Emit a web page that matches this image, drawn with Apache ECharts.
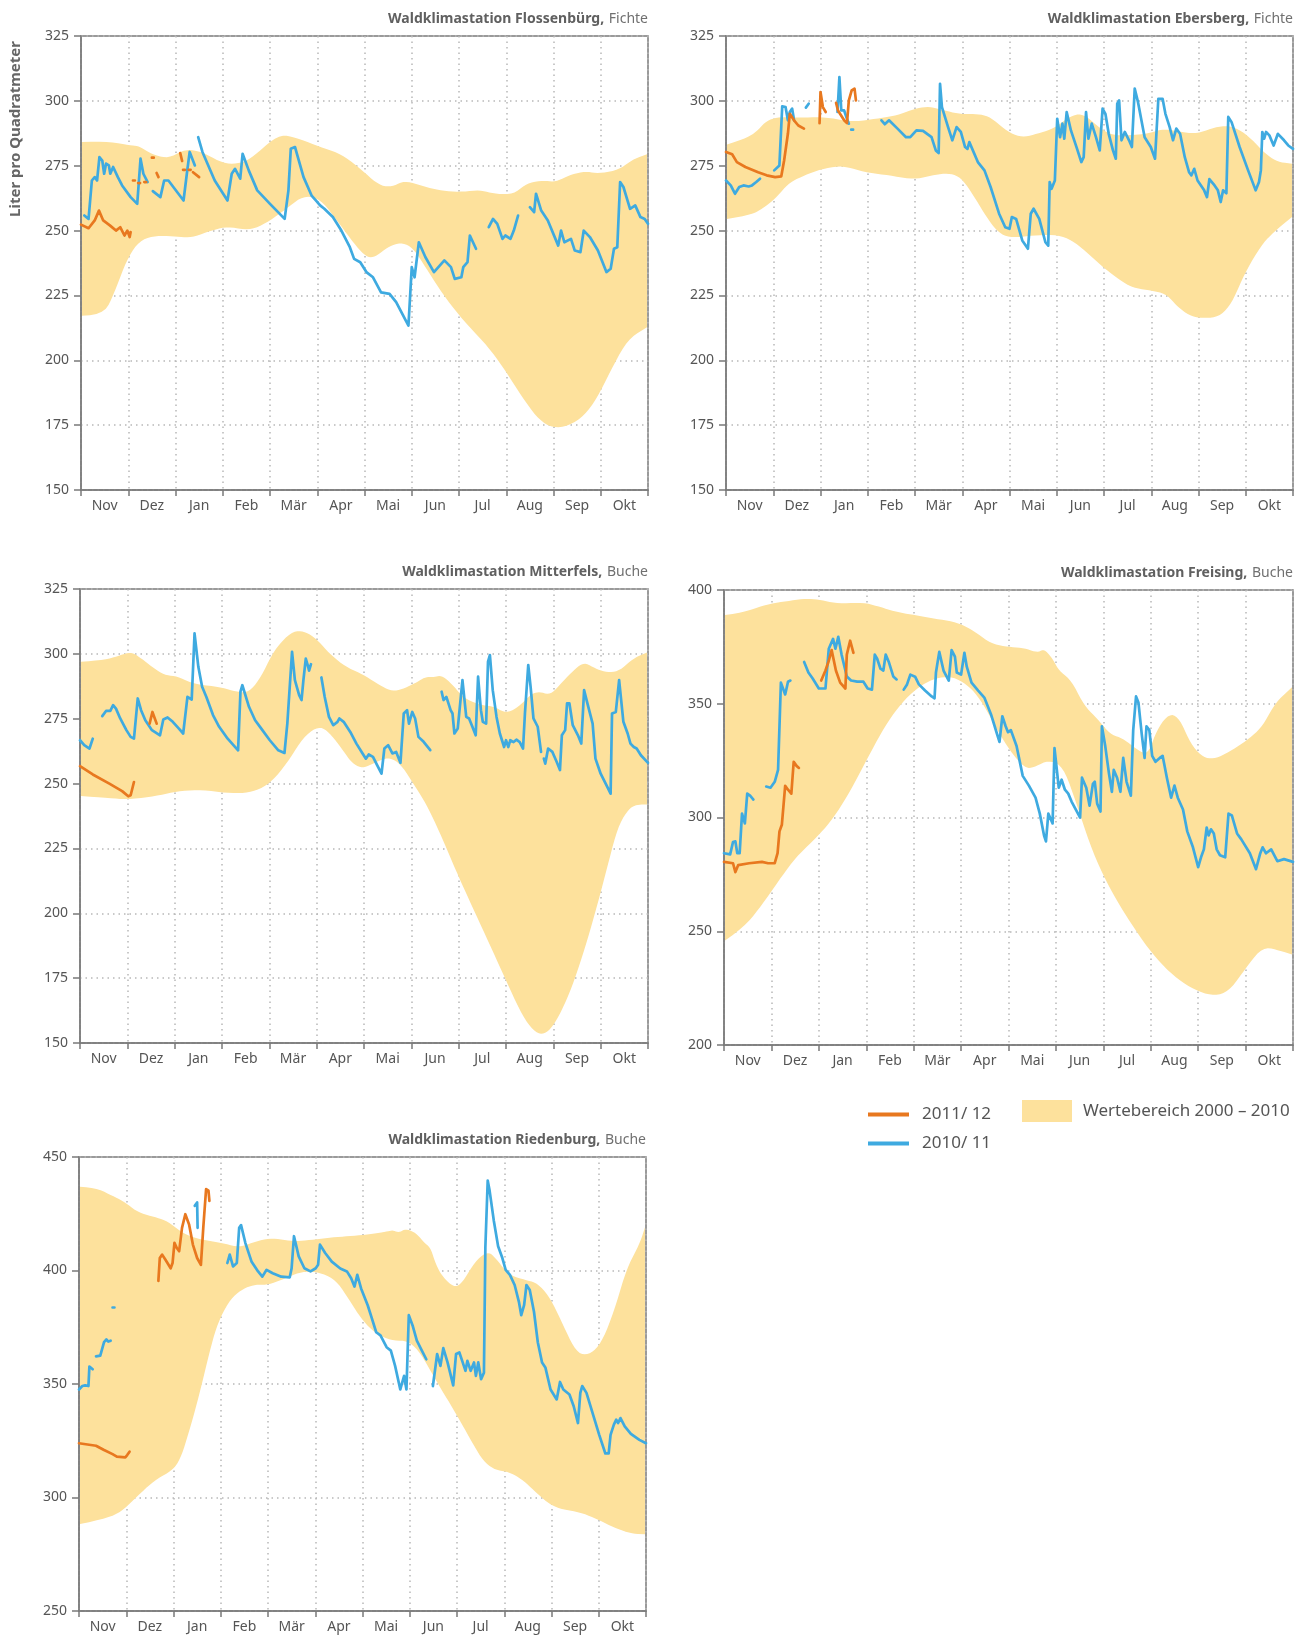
<!DOCTYPE html>
<html>
<head>
<meta charset="utf-8">
<title>Waldklimastationen – Bodenwasservorrat</title>
<script src="https://cdn.jsdelivr.net/npm/echarts@6/dist/echarts.min.js"></script>
<style>
  html, body { margin: 0; padding: 0; background: #fff; }
  #chart { width: 1302px; height: 1637px; }
</style>
</head>
<body>
<div id="chart"></div>
<script>
// Monate des hydrologischen Jahres (Nov - Okt), x-Werte in Monaten ab 1. Nov
var months = ['Nov', 'Dez', 'Jan', 'Feb', 'Mär', 'Apr', 'Mai', 'Jun', 'Jul', 'Aug', 'Sep', 'Okt'];

// ---- Flossenbürg (Fichte) ----
var flosHi = [[0,284.1],[0.52,284.5],[1.05,282.8],[1.23,282.6],[1.5,279.4],[1.85,277.7],[2.21,281.5],[2.57,280.3],[3.01,275.8],[3.37,275.8],[3.64,278.3],[4.17,287.1],[4.53,286.0],[5.06,282.2],[5.51,279.6],[5.95,273.2],[6.31,267.4],[6.58,266.8],[6.84,269.3],[7.2,267.4],[7.56,265.5],[8.0,264.8],[8.45,265.7],[8.72,264.2],[9.16,263.9],[9.43,268.3],[9.79,269.3],[10.05,268.7],[10.32,271.3],[10.68,272.9],[10.94,271.9],[11.39,273.4],[11.66,277.3],[12,279.4]];
var flosLo = [[0,217.2],[0.47,217.2],[0.7,225.6],[0.96,238.5],[1.23,246.2],[1.59,248.1],[2.03,247.7],[2.34,247.2],[2.75,250.0],[3.1,251.6],[3.55,250.0],[3.9,252.6],[4.35,258.4],[4.7,263.5],[5.06,262.3],[5.42,253.9],[5.78,244.9],[6.04,239.7],[6.22,239.7],[6.49,243.6],[6.76,245.5],[7.02,243.6],[7.29,235.9],[7.65,225.6],[8.09,215.3],[8.63,205.0],[8.98,196.0],[9.34,185.7],[9.7,176.7],[10.05,173.5],[10.5,176.1],[10.86,183.2],[11.21,196.0],[11.57,208.2],[12,212.7]];
var flosBlue = [[0.07,255.8],[0.16,254.5],[0.23,269.3],[0.29,270.6],[0.34,269.3],[0.39,278.3],[0.45,277.0],[0.49,271.9],[0.53,275.8],[0.59,275.1],[0.62,271.9],[0.68,274.5],[0.78,270.6],[0.87,267.4],[1.05,262.9],[1.19,260.3],[1.26,277.7],[1.32,271.9],[1.41,268.7], null,
  [1.52,265.2],[1.68,262.9],[1.76,269.3],[1.85,269.3],[2.17,261.6],[2.24,271.9],[2.3,280.3],[2.34,280.3],[2.41,275.1], null,
  [2.48,286.0],[2.57,280.3],[2.83,269.3],[3.1,261.6],[3.19,271.9],[3.26,273.8],[3.37,270.0],[3.42,279.6],[3.55,273.2],[3.73,265.5],[4.0,260.3],[4.31,254.5],[4.39,265.5],[4.44,281.5],[4.53,282.2],[4.57,279.6],[4.71,270.6],[4.88,263.5],[4.97,261.6],[5.06,259.7],[5.15,258.4],[5.33,255.2],[5.51,250.0],[5.69,243.6],[5.78,239.1],[5.91,237.8],[6.04,234.0],[6.18,232.0],[6.35,226.2],[6.53,225.6],[6.67,222.4],[6.93,213.4],[7.0,235.9],[7.06,232.0],[7.15,245.5],[7.29,239.7],[7.47,234.0],[7.69,238.5],[7.83,235.9],[7.91,231.4],[8.05,232.0],[8.09,235.9],[8.18,237.8],[8.23,248.1],[8.36,243.0], null,
  [8.63,251.3],[8.72,254.5],[8.81,252.6],[8.92,246.8],[8.98,248.1],[9.09,246.8],[9.16,250.0],[9.25,255.8], null,
  [9.5,259.0],[9.59,257.1],[9.63,264.2],[9.74,257.7],[9.88,253.9],[10.1,244.2],[10.16,250.0],[10.23,245.5],[10.37,246.8],[10.45,242.3],[10.57,241.7],[10.64,250.0],[10.77,247.5],[10.94,242.3],[11.12,234.0],[11.21,235.3],[11.28,243.0],[11.35,243.6],[11.41,268.7],[11.48,266.8],[11.62,258.4],[11.73,259.7],[11.84,255.2],[11.93,254.5],[12,252.6]];
var flosOrange = [[0,252.3],[0.16,250.9],[0.29,253.9],[0.38,257.7],[0.47,253.9],[0.61,252.0],[0.74,250.0],[0.83,251.3],[0.92,248.1],[0.98,250.0],[1.03,247.5],[1.05,249.4], null,
  [1.1,269.3],[1.14,269.3], null, [1.21,268.3],[1.25,268.3], null, [1.34,268.7],[1.38,268.7], null,
  [1.5,278.1],[1.54,278.1], null, [1.6,272.2],[1.64,270.6], null, [2.1,279.9],[2.14,276.8], null,
  [2.16,273.4],[2.2,273.4], null, [2.28,273.4],[2.32,273.4], null, [2.37,272.5],[2.5,270.6]];

// ---- Ebersberg (Fichte) ----
var eberHi = [[0,283.2],[0.41,285.4],[0.64,288.0],[0.86,292.5],[1.13,293.8],[1.57,293.5],[2.11,293.8],[2.65,291.8],[3.18,293.1],[3.63,294.4],[3.99,297.0],[4.3,297.9],[4.62,296.3],[4.97,294.8],[5.33,295.0],[5.6,293.8],[5.96,288.0],[6.27,285.8],[6.58,287.3],[6.94,289.3],[7.3,294.4],[7.57,295.0],[7.92,289.3],[8.19,286.7],[8.55,286.7],[8.91,287.3],[9.27,289.3],[9.62,288.0],[9.98,287.3],[10.34,289.9],[10.7,290.5],[11.05,286.7],[11.41,279.6],[11.68,276.4],[12,275.8]];
var eberLo = [[0,254.5],[0.5,255.8],[0.77,258.4],[1.04,262.2],[1.31,268.0],[1.57,270.6],[2.02,273.8],[2.47,275.1],[2.92,272.5],[3.45,271.3],[3.99,269.6],[4.35,271.3],[4.7,272.2],[4.97,270.6],[5.24,263.5],[5.51,255.2],[5.78,248.8],[6.05,247.2],[6.49,248.1],[7.03,248.5],[7.39,245.5],[7.75,239.7],[8.1,234.0],[8.55,228.2],[8.91,227.1],[9.31,225.8],[9.53,221.1],[9.8,217.2],[10.07,216.2],[10.43,216.6],[10.7,221.7],[10.97,233.3],[11.32,244.2],[11.59,249.4],[12,255.2]];
var eberBlue = [[0,269.3],[0.1,267.4],[0.19,264.2],[0.28,266.8],[0.37,267.4],[0.41,268.0],[0.48,267.0],[0.55,267.4],[0.64,268.7],[0.72,270.0], null,
  [1.02,273.2],[1.13,275.1],[1.19,297.9],[1.26,297.6],[1.31,292.5],[1.35,295.7],[1.4,297.0],[1.44,292.5], null,
  [1.69,297.4],[1.75,298.9], null,
  [2.36,295.7],[2.4,309.2],[2.44,296.3],[2.5,296.3],[2.56,293.1],[2.6,291.2], null,
  [2.65,288.9],[2.69,288.9], null,
  [3.29,292.5],[3.36,291.0],[3.45,292.5],[3.63,289.3],[3.81,286.0],[3.9,286.0],[4.03,288.6],[4.17,288.4],[4.35,286.0],[4.44,280.9],[4.5,279.9],[4.53,306.6],[4.57,297.6],[4.7,289.9],[4.79,284.8],[4.83,284.6],[4.88,289.9],[4.97,288.0],[5.06,282.2],[5.11,281.5],[5.15,284.1],[5.33,276.4],[5.47,273.2],[5.6,266.8],[5.78,256.5],[5.91,251.3],[6.0,250.7],[6.05,255.2],[6.14,254.5],[6.27,246.2],[6.39,243.0],[6.45,256.5],[6.51,258.4],[6.63,254.5],[6.76,245.5],[6.82,244.2],[6.85,268.7],[6.89,266.1],[6.96,269.3],[7.01,293.1],[7.07,286.0],[7.12,291.2],[7.16,285.4],[7.21,295.7],[7.3,288.6],[7.43,281.5],[7.52,276.4],[7.57,278.3],[7.62,295.7],[7.67,285.4],[7.74,291.2],[7.83,286.0],[7.91,280.9],[7.97,297.0],[8.03,295.0],[8.1,287.3],[8.19,280.9],[8.25,277.7],[8.28,298.9],[8.32,300.2],[8.37,284.8],[8.44,288.0],[8.53,284.8],[8.59,282.2],[8.65,304.7],[8.72,299.5],[8.86,286.0],[8.99,282.2],[9.08,277.7],[9.15,300.8],[9.24,300.8],[9.3,295.0],[9.39,289.9],[9.46,284.8],[9.53,289.3],[9.61,287.3],[9.71,278.3],[9.8,272.5],[9.85,271.3],[9.91,273.8],[9.98,269.3],[10.12,265.5],[10.18,262.9],[10.23,269.8],[10.34,267.4],[10.41,265.5],[10.47,261.0],[10.52,265.5],[10.59,264.4],[10.63,293.8],[10.7,291.8],[10.87,282.2],[11.05,273.2],[11.21,265.5],[11.28,268.7],[11.32,273.2],[11.35,288.0],[11.39,285.4],[11.43,288.0],[11.5,286.7],[11.59,282.8],[11.68,287.3],[11.81,284.8],[11.9,282.8],[12,281.5]];
var eberOrange = [[0,280.3],[0.13,279.4],[0.23,276.4],[0.41,274.5],[0.68,272.5],[0.86,271.3],[1.04,270.6],[1.17,270.9],[1.23,277.0],[1.31,287.3],[1.35,295.0],[1.44,292.5],[1.53,290.5],[1.65,289.3], null,
  [1.98,291.4],[2.0,303.4],[2.05,297.6],[2.11,295.7], null,
  [2.33,299.2],[2.37,296.3],[2.5,292.5],[2.56,291.4],[2.6,300.2],[2.66,304.0],[2.72,304.7],[2.75,300.2]];

// ---- Mitterfels (Buche) ----
var mittHi = [[0,297.0],[0.45,297.4],[0.8,299.1],[1.07,300.8],[1.25,298.9],[1.52,295.0],[1.78,291.8],[2.05,291.4],[2.41,288.3],[2.94,287.3],[3.3,285.4],[3.57,285.0],[3.83,291.2],[4.1,301.5],[4.46,308.5],[4.72,308.9],[4.99,306.0],[5.26,300.2],[5.61,295.0],[5.97,292.2],[6.33,287.9],[6.6,285.4],[6.86,286.7],[7.13,289.2],[7.31,291.2],[7.49,291.0],[7.63,291.8],[7.85,288.6],[8.11,282.8],[8.47,280.2],[8.74,279.8],[9.0,277.0],[9.27,279.6],[9.54,284.7],[9.71,285.4],[9.94,284.1],[10.16,288.6],[10.43,293.7],[10.65,296.9],[10.88,294.4],[11.14,292.7],[11.41,293.5],[11.68,298.2],[12,300.5]];
var mittLo = [[0,245.2],[0.53,244.6],[0.98,243.8],[1.6,245.1],[2.05,247.1],[2.58,247.6],[3.21,246.1],[3.65,246.7],[4.01,249.9],[4.37,257.7],[4.72,268.0],[5.04,272.2],[5.26,269.9],[5.53,263.5],[5.75,257.7],[5.97,255.8],[6.19,257.7],[6.51,260.3],[6.77,257.7],[7.04,250.0],[7.31,242.3],[7.58,232.0],[7.94,216.5],[8.29,202.4],[8.65,188.2],[9.0,174.1],[9.36,159.9],[9.63,153.7],[9.85,153.5],[10.07,158.6],[10.34,168.9],[10.61,183.1],[10.88,199.8],[11.14,217.8],[11.36,233.3],[11.59,240.3],[11.76,241.9],[12,241.9]];
var mittBlue = [[0,266.7],[0.09,264.8],[0.2,263.5],[0.27,267.3], null,
  [0.47,276.0],[0.55,278.0],[0.64,278.0],[0.7,280.2],[0.76,278.9],[0.85,275.1],[0.98,270.6],[1.07,268.0],[1.14,267.3],[1.22,282.8],[1.29,278.3],[1.38,274.4],[1.52,270.6],[1.69,268.6],[1.76,274.7],[1.85,275.5],[1.96,273.8],[2.09,271.2],[2.18,269.3],[2.27,283.4],[2.36,282.4],[2.42,307.9],[2.5,295.0],[2.58,287.3],[2.67,283.4],[2.81,276.4],[2.94,271.9],[3.12,267.3],[3.34,262.8],[3.39,285.4],[3.43,287.9],[3.57,279.6],[3.7,274.4],[3.83,271.2],[4.01,266.7],[4.19,262.8],[4.32,261.8],[4.38,273.1],[4.48,300.8],[4.54,289.9],[4.63,284.1],[4.68,282.2],[4.72,289.9],[4.77,298.2],[4.81,295.7],[4.84,293.5],[4.88,296.0], null,
  [5.1,290.9],[5.17,283.4],[5.26,275.7],[5.35,272.5],[5.44,273.8],[5.48,275.1],[5.57,273.8],[5.71,269.9],[5.84,265.4],[5.97,261.6],[6.04,259.6],[6.1,261.2],[6.19,260.3],[6.28,257.0],[6.37,253.8],[6.43,263.5],[6.51,264.8],[6.6,261.6],[6.68,262.2],[6.77,258.0],[6.84,277.0],[6.91,278.3],[6.95,273.1],[7.02,277.6],[7.08,275.1],[7.15,268.0],[7.26,266.1],[7.4,262.9], null,
  [7.64,285.4],[7.68,282.2],[7.74,283.4],[7.83,278.3],[7.87,277.0],[7.91,269.3],[7.98,271.2],[8.08,289.9],[8.16,275.7],[8.22,275.1],[8.29,271.9],[8.36,268.6],[8.41,291.2],[8.47,278.3],[8.51,273.8],[8.58,273.1],[8.62,297.0],[8.66,299.5],[8.72,286.0],[8.8,275.7],[8.87,269.3],[8.96,264.1],[9.0,266.7],[9.05,264.1],[9.09,266.7],[9.16,266.0],[9.22,266.9],[9.29,266.0],[9.36,263.5],[9.4,277.0],[9.47,295.7],[9.52,287.3],[9.58,275.1],[9.67,271.9],[9.74,262.2], null,
  [9.8,259.6],[9.83,257.7],[9.89,263.5],[9.98,262.2],[10.07,258.4],[10.14,255.2],[10.18,268.6],[10.25,270.6],[10.29,280.9],[10.34,280.9],[10.41,272.5],[10.52,268.6],[10.59,265.4],[10.65,286.0],[10.72,280.9],[10.83,273.1],[10.89,259.6],[11.0,253.8],[11.14,248.7],[11.21,246.1],[11.24,277.0],[11.32,277.6],[11.39,289.9],[11.48,273.8],[11.57,269.3],[11.63,265.4],[11.7,264.1],[11.76,263.5],[11.85,260.9],[12,258.0]];
var mittOrange = [[0,256.7],[0.27,253.5],[0.62,250.0],[0.89,247.1],[1.02,245.1],[1.07,245.5],[1.14,250.6], null,
  [1.47,273.1],[1.53,277.6],[1.62,273.1]];

// ---- Freising (Buche) ----
var freiHi = [[0,389.0],[0.44,390.2],[0.89,393.7],[1.33,395.1],[1.74,396.3],[2.05,395.6],[2.41,393.9],[2.94,394.6],[3.3,392.5],[3.66,390.2],[4.02,389.0],[4.47,387.3],[4.91,385.9],[5.27,382.0],[5.63,376.4],[5.99,375.0],[6.34,374.5],[6.61,372.4],[6.75,374.2],[6.93,369.8],[7.06,364.6],[7.33,360.2],[7.6,348.9],[7.87,343.6],[8.14,336.6],[8.4,334.9],[8.67,330.5],[8.94,327.1],[9.12,338.4],[9.39,345.9],[9.61,343.6],[9.84,332.3],[10.11,326.2],[10.37,325.8],[10.73,329.7],[11.09,334.9],[11.36,340.1],[11.63,350.6],[12,357.2]];
var freiLo = [[0,245.9],[0.44,252.0],[0.8,261.6],[1.15,272.1],[1.51,282.5],[1.96,291.3],[2.32,300.0],[2.68,312.2],[3.03,326.2],[3.39,340.1],[3.75,350.6],[4.11,357.6],[4.47,361.4],[4.83,362.0],[5.18,357.6],[5.45,350.6],[5.81,336.6],[6.08,328.0],[6.34,321.8],[6.52,321.8],[6.84,325.3],[7.15,322.7],[7.42,307.0],[7.78,284.3],[8.14,268.6],[8.49,256.4],[8.94,242.4],[9.39,231.9],[9.84,225.0],[10.28,221.5],[10.64,223.2],[11.0,233.7],[11.36,243.3],[11.72,241.5],[12,239.8]];
var freiBlue = [[0,284.3],[0.13,283.8],[0.19,289.2],[0.24,289.5],[0.28,284.3],[0.33,284.3],[0.38,301.7],[0.44,297.4],[0.49,310.5],[0.55,309.6],[0.62,307.9], null,
  [0.89,313.6],[0.98,313.1],[1.07,315.7],[1.14,320.9],[1.2,359.3],[1.29,354.1],[1.35,359.7],[1.4,360.2], null,
  [1.69,368.4],[1.78,363.7],[1.87,361.1],[2.0,356.7],[2.14,356.7],[2.21,374.2],[2.3,378.5],[2.35,374.2],[2.41,379.4],[2.48,371.6],[2.59,362.0],[2.68,360.2],[2.81,359.7],[2.94,359.7],[3.03,356.7],[3.12,356.2],[3.18,371.6],[3.23,369.8],[3.3,365.4],[3.36,364.6],[3.41,371.6],[3.48,368.1],[3.57,362.0],[3.64,360.7], null,
  [3.79,356.2],[3.86,358.5],[3.93,362.8],[4.03,361.9],[4.11,358.5],[4.24,355.8],[4.38,353.2],[4.44,352.4],[4.47,363.7],[4.5,363.7],[4.54,372.8],[4.63,364.6],[4.74,360.2],[4.8,373.6],[4.87,370.7],[4.91,363.7],[5.0,362.8],[5.07,372.4],[5.12,366.3],[5.22,359.3],[5.36,355.8],[5.49,352.7],[5.63,345.4],[5.76,336.6],[5.81,333.2],[5.87,344.5],[5.94,340.1],[5.99,337.5],[6.05,338.4],[6.17,331.4],[6.3,318.3],[6.43,314.0],[6.57,308.7],[6.66,301.7],[6.75,292.1],[6.79,289.5],[6.84,301.7],[6.88,301.7],[6.93,297.4],[6.97,330.5],[7.01,330.5],[7.06,313.1],[7.12,316.6],[7.19,312.2],[7.26,310.5],[7.33,307.0],[7.42,303.5],[7.51,300.0],[7.55,317.5],[7.64,313.1],[7.71,305.2],[7.78,314.8],[7.82,315.7],[7.87,306.1],[7.94,302.6],[7.97,340.1],[8.04,331.4],[8.12,319.2],[8.18,311.3],[8.22,320.9],[8.29,317.5],[8.36,311.3],[8.42,326.2],[8.49,315.7],[8.58,309.6],[8.63,338.4],[8.69,353.2],[8.74,350.6],[8.81,336.6],[8.87,326.2],[8.91,340.1],[8.97,338.4],[9.03,327.1],[9.1,324.5],[9.19,326.2],[9.25,327.1],[9.34,317.5],[9.43,308.7],[9.5,314.0],[9.57,308.7],[9.68,303.5],[9.77,293.9],[9.89,286.9],[10.0,278.2],[10.06,282.5],[10.12,286.0],[10.18,295.6],[10.22,292.1],[10.27,294.8],[10.33,293.0],[10.39,286.0],[10.46,283.4],[10.57,282.5],[10.64,301.7],[10.71,300.9],[10.82,293.0],[10.91,290.4],[11.09,284.3],[11.22,277.3],[11.31,284.3],[11.36,286.9],[11.43,284.3],[11.54,286.0],[11.67,280.8],[11.81,281.7],[12,280.5]];
var freiOrange = [[0,280.5],[0.19,279.9],[0.24,276.0],[0.3,279.1],[0.53,279.9],[0.8,280.5],[0.93,279.9],[1.07,279.9],[1.13,284.3],[1.17,293.9],[1.22,296.8],[1.29,313.9],[1.35,312.2],[1.42,310.5],[1.47,324.5],[1.53,322.7],[1.58,321.8], null,
  [2.05,360.2],[2.14,364.6],[2.21,368.9],[2.27,373.6],[2.36,364.6],[2.45,359.3],[2.56,356.7],[2.59,371.6],[2.66,377.7],[2.73,372.4]];

// ---- Riedenburg (Buche) ----
var riedHi = [[0,436.9],[0.36,436.4],[0.71,432.9],[0.98,430.0],[1.25,425.5],[1.6,423.6],[1.87,421.8],[2.23,415.9],[2.58,413.6],[3.03,412.2],[3.39,410.0],[3.74,412.9],[4.1,414.4],[4.46,412.9],[4.81,413.2],[5.26,414.4],[5.7,415.1],[6.15,415.9],[6.51,417.1],[6.64,417.8],[6.77,416.6],[6.91,418.5],[7.13,416.6],[7.31,412.2],[7.44,410.0],[7.53,404.0],[7.66,398.1],[7.93,392.4],[8.11,394.4],[8.38,404.0],[8.65,408.5],[8.82,405.5],[9.09,398.1],[9.45,395.8],[9.71,394.4],[9.98,387.7],[10.25,375.8],[10.52,363.9],[10.78,362.5],[11.05,367.7],[11.32,381.7],[11.59,401.0],[11.86,411.4],[12,419.1]];
var riedLo = [[0,288.3],[0.53,290.5],[0.89,293.5],[1.25,300.9],[1.6,307.6],[1.96,311.7],[2.14,316.5],[2.32,328.3],[2.54,344.7],[2.76,364.0],[2.94,377.3],[3.21,387.7],[3.48,392.1],[3.74,393.9],[4.01,393.6],[4.37,396.6],[4.72,399.6],[5.08,399.3],[5.44,395.8],[5.7,387.7],[5.97,378.8],[6.24,372.8],[6.6,369.1],[6.96,369.1],[7.22,364.0],[7.58,350.6],[7.93,338.7],[8.29,325.4],[8.56,315.7],[8.82,312.0],[9.09,311.3],[9.36,308.3],[9.63,303.1],[9.9,297.9],[10.16,295.0],[10.61,293.5],[10.96,290.5],[11.32,286.8],[11.68,284.1],[12,283.8]];
var riedBlue = [[0,347.6],[0.07,349.1],[0.13,349.4],[0.2,349.1],[0.22,357.7],[0.29,356.5], null,
  [0.36,362.2],[0.45,362.5],[0.53,368.4],[0.58,369.6],[0.62,368.7],[0.67,369.1], null,
  [0.71,383.7],[0.75,383.7], null,
  [2.45,428.5],[2.5,430.0],[2.51,418.8], null,
  [3.14,403.3],[3.19,407.0],[3.26,401.8],[3.34,403.3],[3.39,418.8],[3.43,420.0],[3.52,412.2],[3.65,404.0],[3.79,399.6],[3.88,397.3],[3.97,400.3],[4.1,398.8],[4.28,397.3],[4.46,397.0],[4.5,401.0],[4.55,415.1],[4.59,415.9],[4.65,406.2],[4.77,401.0],[4.9,399.6],[5.01,401.0],[5.06,402.5],[5.1,411.4],[5.21,407.7],[5.35,403.9],[5.53,400.9],[5.67,399.6],[5.76,396.6],[5.83,392.9],[5.89,398.1],[5.97,392.1],[6.11,384.7],[6.2,378.8],[6.29,372.8],[6.38,371.4],[6.51,366.2],[6.6,364.7],[6.69,358.0],[6.8,347.6],[6.88,353.6],[6.93,347.6],[6.96,347.6],[6.98,380.3],[7.06,375.8],[7.15,369.1],[7.24,365.4],[7.35,360.9], null,
  [7.49,349.1],[7.58,363.2],[7.65,358.0],[7.71,365.8],[7.8,359.5],[7.92,349.4],[7.98,363.2],[8.05,363.9],[8.11,360.2],[8.18,355.8],[8.22,360.2],[8.29,355.8],[8.36,359.5],[8.4,353.6],[8.45,359.5],[8.51,352.1],[8.57,355.0],[8.6,410.0],[8.65,439.6],[8.69,435.2],[8.78,421.8],[8.87,410.7],[8.96,405.5],[9.03,400.3],[9.12,398.1],[9.22,393.6],[9.31,386.2],[9.36,380.3],[9.42,384.7],[9.47,393.6],[9.54,391.4],[9.63,381.7],[9.71,368.4],[9.8,359.5],[9.87,357.3],[9.98,347.6],[10.11,343.2],[10.18,350.9],[10.25,347.6],[10.38,345.4],[10.47,340.2],[10.56,332.8],[10.61,346.1],[10.65,349.1],[10.74,346.1],[10.87,337.2],[11.01,327.6],[11.14,319.4],[11.21,319.4],[11.25,327.6],[11.32,332.1],[11.37,334.3],[11.41,332.8],[11.46,335.0],[11.55,331.3],[11.68,328.0],[11.86,325.4],[12,323.9]];
var riedOrange = [[0,323.9],[0.36,322.8],[0.53,320.9],[0.71,319.1],[0.8,318.0],[0.98,317.7],[1.02,318.7],[1.07,320.2], null,
  [1.68,395.4],[1.71,405.5],[1.76,407.0],[1.83,404.7],[1.94,401.0],[1.98,403.3],[2.02,412.2],[2.07,409.9],[2.12,408.5],[2.18,418.8],[2.25,424.8],[2.33,420.3],[2.41,411.4],[2.5,405.5],[2.58,402.5],[2.63,418.8],[2.69,435.9],[2.74,435.2],[2.76,430.7]];

var seriesBlue = '2010/ 11';
var seriesOrange = '2011/ 12';
var bandName = 'Wertebereich 2000 – 2010';

var panels = [
  { station: 'Waldklimastation Flossenbürg,', tree: 'Fichte', hi: flosHi, lo: flosLo, blue: flosBlue, orange: flosOrange, yMin: 150, yMax: 325, step: 25 },
  { station: 'Waldklimastation Ebersberg,', tree: 'Fichte', hi: eberHi, lo: eberLo, blue: eberBlue, orange: eberOrange, yMin: 150, yMax: 325, step: 25 },
  { station: 'Waldklimastation Mitterfels,', tree: 'Buche', hi: mittHi, lo: mittLo, blue: mittBlue, orange: mittOrange, yMin: 150, yMax: 325, step: 25 },
  { station: 'Waldklimastation Freising,', tree: 'Buche', hi: freiHi, lo: freiLo, blue: freiBlue, orange: freiOrange, yMin: 200, yMax: 400, step: 50 },
  { station: 'Waldklimastation Riedenburg,', tree: 'Buche', hi: riedHi, lo: riedLo, blue: riedBlue, orange: riedOrange, yMin: 250, yMax: 450, step: 50 }
];

// Lage der Diagramme im Bild
var layout = [
  { left: 81, top: 36, width: 567, height: 454 },
  { left: 726, top: 36, width: 567, height: 454 },
  { left: 80, top: 589, width: 568, height: 454 },
  { left: 724, top: 590, width: 569, height: 455 },
  { left: 79, top: 1157, width: 567, height: 454 }
];

var bandColor = '#fde19c';
var blueColor = '#3eaae0';
var orangeColor = '#e8781f';
var axisColor = '#7a7a7a';
var gridColor = '#b8b8b8';
var textColor = '#555';
var lineW = 2.7;

// Glaettung des Bandrandes (quadratische Kurven durch Mittelpunkte)
function smoothPts(pts) {
  var out = [pts[0]];
  var prev = pts[0];
  for (var i = 1; i < pts.length - 1; i++) {
    var end = [(pts[i][0] + pts[i + 1][0]) / 2, (pts[i][1] + pts[i + 1][1]) / 2];
    for (var t = 0.2; t <= 1.0001; t += 0.2) {
      var a = (1 - t) * (1 - t), b = 2 * (1 - t) * t, c = t * t;
      out.push([a * prev[0] + b * pts[i][0] + c * end[0], a * prev[1] + b * pts[i][1] + c * end[1]]);
    }
    prev = end;
  }
  out.push(pts[pts.length - 1]);
  return out;
}

function gaps(arr) {
  return arr.map(function (p) { return p ? p : ['-', '-']; });
}

var option = {
  animation: false,
  backgroundColor: '#fff',
  textStyle: { fontFamily: 'Noto Sans' },
  title: [],
  grid: [],
  xAxis: [],
  yAxis: [],
  series: [],
  legend: [
    {
      data: [seriesOrange, seriesBlue],
      orient: 'vertical',
      left: 863,
      top: 1101,
      itemWidth: 41,
      itemHeight: 4,
      itemGap: 12,
      icon: 'rect',
      selectedMode: false,
      textStyle: { fontSize: 17, color: textColor, padding: [0, 0, 0, 8] }
    },
    {
      data: [bandName],
      left: 1017,
      top: 1095,
      itemWidth: 50,
      itemHeight: 22,
      icon: 'rect',
      selectedMode: false,
      textStyle: { fontSize: 17, color: textColor, padding: [0, 0, 0, 6] }
    }
  ],
  graphic: [{
    type: 'text',
    x: 16,
    y: 129,
    rotation: Math.PI / 2,
    style: {
      text: 'Liter pro Quadratmeter',
      font: 'bold 15px "Noto Sans"',
      fill: '#666',
      align: 'center',
      verticalAlign: 'middle'
    }
  }]
};

panels.forEach(function (p, i) {
  var g = layout[i];
  option.grid.push({
    left: g.left, top: g.top, width: g.width, height: g.height,
    show: true, borderColor: axisColor, borderWidth: 1.5,
    backgroundColor: 'transparent', outerBoundsMode: 'none'
  });
  option.title.push({
    text: '{b|' + p.station + '} {n|' + p.tree + '}',
    right: 1302 - g.left - g.width,
    top: g.top - 26,
    padding: 0,
    textStyle: {
      rich: {
        b: { fontSize: 14, fontWeight: 'bold', color: '#606060', fontFamily: 'Noto Sans' },
        n: { fontSize: 14, fontWeight: 'normal', color: '#707070', fontFamily: 'Noto Sans' }
      }
    }
  });
  // sichtbare Monatsachse
  option.xAxis.push({
    type: 'category', gridIndex: i, data: months, boundaryGap: true,
    axisLine: { lineStyle: { color: axisColor, width: 1.5 } },
    axisTick: { show: true, length: 6, interval: 0, lineStyle: { color: axisColor, width: 1.5 } },
    axisLabel: { color: textColor, fontSize: 14, margin: 9, interval: 0 },
    splitLine: { show: true, interval: 0, lineStyle: { color: gridColor, width: 1.5, type: [1.5, 4] } }
  });
  // Datenachse in Monaten
  option.xAxis.push({ type: 'value', gridIndex: i, min: 0, max: 12, show: false });
  option.yAxis.push({
    type: 'value', gridIndex: i, min: p.yMin, max: p.yMax, interval: p.step,
    axisLine: { show: true, lineStyle: { color: axisColor, width: 1.5 } },
    axisTick: { show: true, length: 7, lineStyle: { color: axisColor, width: 1.5 } },
    axisLabel: { color: textColor, fontSize: 14, margin: 12 },
    splitLine: { show: true, lineStyle: { color: gridColor, width: 1.5, type: [1.5, 4] } }
  });

  option.series.push({
    type: 'custom', name: bandName, xAxisIndex: 2 * i + 1, yAxisIndex: i,
    silent: true, z: 1, itemStyle: { color: bandColor },
    data: [p.hi[0]],
    renderItem: function (params, api) {
      var x0 = api.coord([0, p.yMin])[0] + 1;
      var x1 = api.coord([12, p.yMin])[0] - 1;
      function px(pt) {
        var c = api.coord(pt);
        c[0] = Math.min(x1, Math.max(x0, c[0]));
        return c;
      }
      var top = smoothPts(p.hi.map(px));
      var bot = smoothPts(p.lo.map(px)).reverse();
      return { type: 'polygon', shape: { points: top.concat(bot) }, style: { fill: bandColor } };
    }
  });
  option.series.push({
    type: 'line', name: seriesBlue, xAxisIndex: 2 * i + 1, yAxisIndex: i,
    data: gaps(p.blue), showSymbol: false, connectNulls: false, silent: true, z: 3,
    lineStyle: { color: blueColor, width: lineW, join: 'round', cap: 'round' }, itemStyle: { color: blueColor }
  });
  option.series.push({
    type: 'line', name: seriesOrange, xAxisIndex: 2 * i + 1, yAxisIndex: i,
    data: gaps(p.orange), showSymbol: false, connectNulls: false, silent: true, z: 4,
    lineStyle: { color: orangeColor, width: lineW, join: 'round', cap: 'round' }, itemStyle: { color: orangeColor }
  });
});

var chart = echarts.init(document.getElementById('chart'));
chart.setOption(option);
</script>
</body>
</html>
